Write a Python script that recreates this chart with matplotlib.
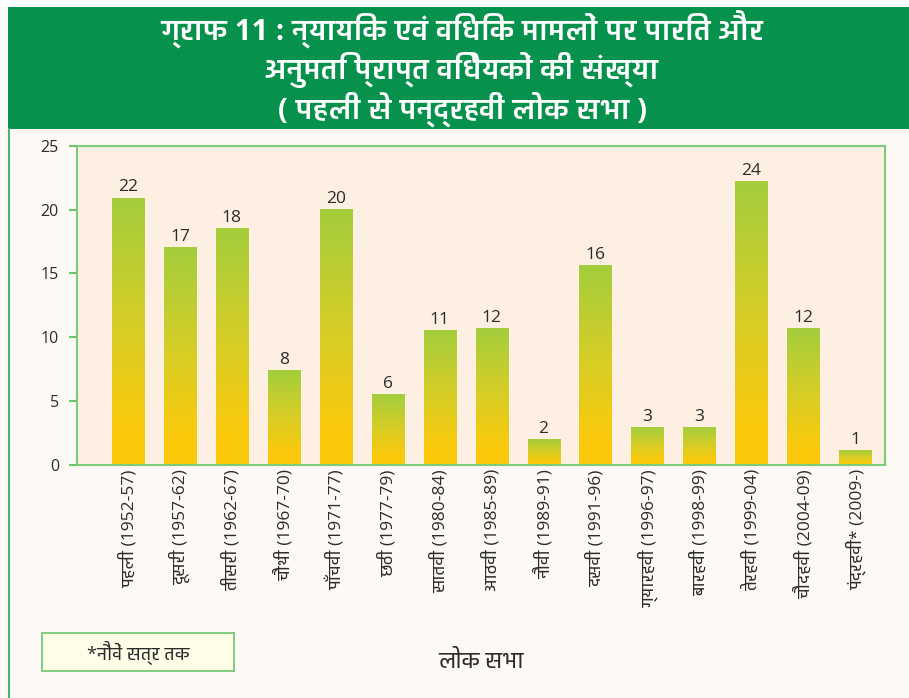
import matplotlib

matplotlib.use("Agg")
import matplotlib.pyplot as plt
import numpy as np
from matplotlib import font_manager
from matplotlib.colors import LinearSegmentedColormap
from matplotlib.patches import Rectangle

# Lok Sabha (Hindi ordinal) and its term
sabha = ["पहली", "दूसरी", "तीसरी", "चौथी", "पाँचवीं", "छठी", "सातवीं", "आठवीं",
         "नौवीं", "दसवीं", "ग्यारहवीं", "बारहवीं", "तेरहवीं", "चौदहवीं", "पंद्रहवीं*"]
terms = ["1952-57", "1957-62", "1962-67", "1967-70", "1971-77", "1977-79", "1980-84",
         "1985-89", "1989-91", "1991-96", "1996-97", "1998-99", "1999-04", "2004-09", "2009-"]
# bar lengths as drawn in the source, and the numbers printed above them
bar_heights = [20.9, 17.0, 18.5, 7.4, 20.0, 5.5, 10.5, 10.7, 2.0, 15.6, 2.9, 2.9, 22.2, 10.7, 1.1]
printed = [22, 17, 18, 8, 20, 6, 11, 12, 2, 16, 3, 3, 24, 12, 1]

title = ("ग्राफ 11 : न्यायिक एवं विधिक मामलों पर पारित और\n"
         "अनुमति प्राप्त विधेयकों की संख्या\n"
         "( पहली से पन्द्रहवीं लोक सभा )")
xlabel = "लोक सभा"
note = "*नौवें सत्र तक"


def _devanagari_families():
    # installed families with Devanagari glyphs; those with a bold face first
    try:
        from fontTools.ttLib import TTFont
    except ImportError:
        return []
    found = {}
    for f in font_manager.fontManager.ttflist:
        try:
            cmap = TTFont(f.fname, fontNumber=0, lazy=True).getBestCmap()
        except Exception:
            continue
        if cmap and 0x0915 in cmap:
            w = f.weight if isinstance(f.weight, int) else 400
            found[f.name] = max(found.get(f.name, 0), w)
    return sorted(found, key=lambda n: -found[n])


deva = _devanagari_families()
families = ["Open Sans"] + deva[:1] + ["DejaVu Sans"]
plt.rcParams["font.family"] = families

W, H = 909, 698
fig = plt.figure(figsize=(W / 100, H / 100), dpi=100)
fig.patch.set_facecolor("#fdfaf5")

# white strip on top, green title band, thin green rule on the left
fig.add_artist(Rectangle((0, 1 - 7 / H), 1, 7 / H, transform=fig.transFigure,
                         facecolor="white", edgecolor="none", zorder=0))
fig.add_artist(Rectangle((8 / W, 1 - 129 / H), 1, 122 / H, transform=fig.transFigure,
                         facecolor="#06914c", edgecolor="none", zorder=0))
fig.add_artist(plt.Line2D([8.5 / W, 8.5 / W], [0, 1 - 129 / H], transform=fig.transFigure,
                          color="#4db375", lw=1.5))
fig.text(462 / W, 1 - 69 / H, title, ha="center", va="center", color="white",
         fontsize=21, fontweight="bold", linespacing=1.12)

ax = fig.add_axes([77 / W, 1 - 465 / H, 808 / W, 319.3 / H])
ax.set_facecolor("#fdf0e2")

x = np.arange(len(bar_heights))
bars = ax.bar(x, bar_heights, width=0.62, color="none", zorder=2)

cmap = LinearSegmentedColormap.from_list(
    "bar", [(0.0, "#fdc90a"), (0.12, "#fcc90b"), (0.55, "#d4ce28"), (1.0, "#a3cd3c")])
grad = np.linspace(0, 1, 256).reshape(-1, 1)
for b in bars:
    x0, w, h = b.get_x(), b.get_width(), b.get_height()
    ax.imshow(grad, extent=[x0, x0 + w, 0, h], origin="lower", aspect="auto",
              cmap=cmap, zorder=2)

for xi, h, p in zip(x, bar_heights, printed):
    ax.annotate(str(p), (xi, h), xytext=(0, 2), textcoords="offset points",
                ha="center", va="bottom", fontsize=12.5, color="#2b2b2b")

ax.set_xlim(-0.98, 14.57)
ax.set_ylim(0, 25)
ax.set_yticks([0, 5, 10, 15, 20, 25])
ax.tick_params(axis="y", length=6, width=1.5, color="#6cc36c", labelsize=11.5,
               labelcolor="#2b2b2b", pad=7)
ax.set_xticks(x)
ax.set_xticklabels([f"{s} ({t})" for s, t in zip(sabha, terms)], rotation=90,
                   ha="center", va="top", fontsize=12.5, color="#2b2b2b")
ax.tick_params(axis="x", length=0, pad=3)
for sp in ax.spines.values():
    sp.set_color("#7ccb78")
    sp.set_linewidth(1.5)

fig.text(481 / W, 1 - 662 / H, xlabel, ha="center", va="center", fontsize=16,
         color="#2b2b2b")
fig.add_artist(Rectangle((42 / W, 1 - 671 / H), 192 / W, 38 / H, transform=fig.transFigure,
                         facecolor="#fefee8", edgecolor="#6cc36c", lw=1.2))
fig.text(138 / W, 1 - 653 / H, note, ha="center", va="center", fontsize=13,
         color="#2b2b2b")

fig.savefig("out.png", dpi=100, facecolor=fig.get_facecolor())
